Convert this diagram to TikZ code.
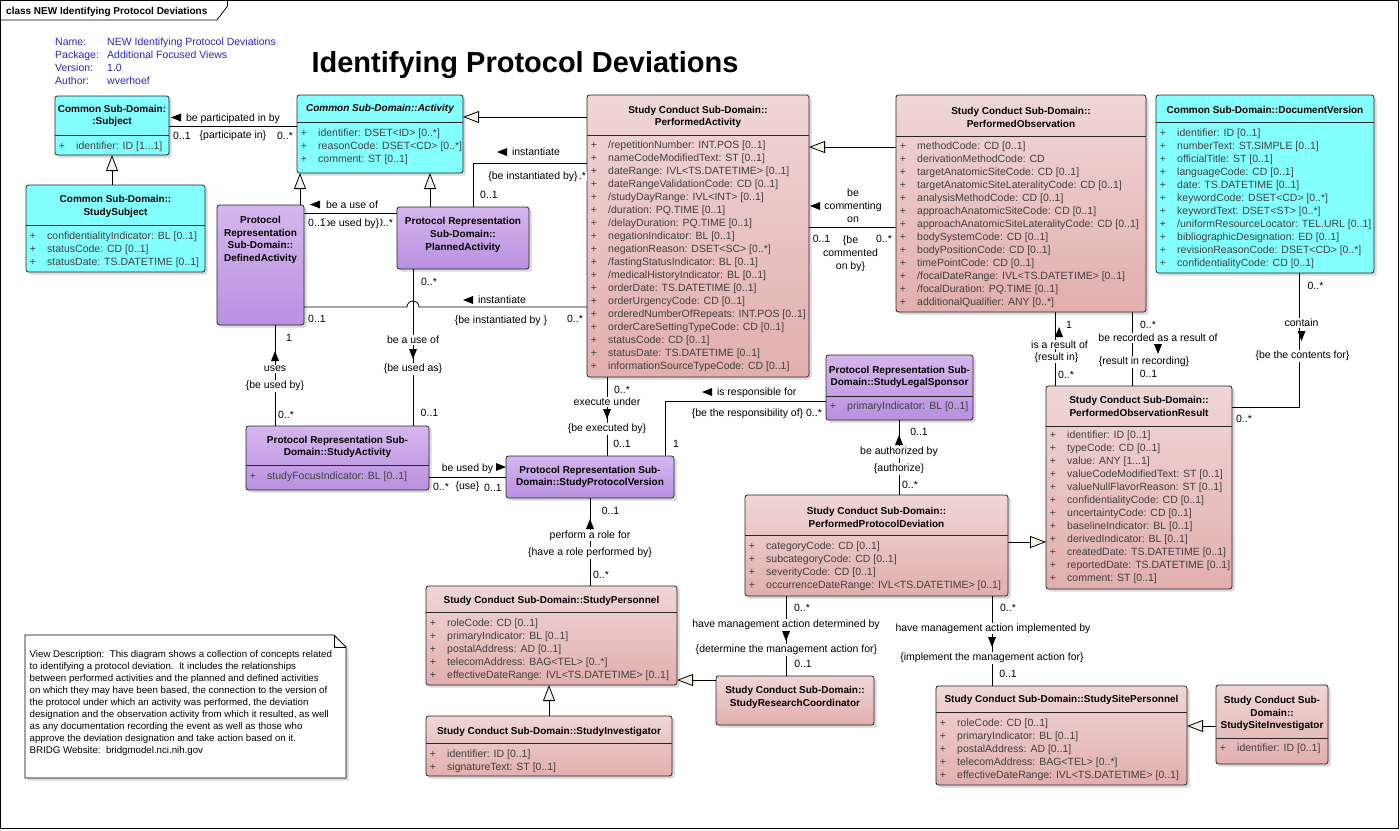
\documentclass[tikz,border=0pt]{standalone}
\usepackage{fontspec}
\setmainfont{Liberation Sans}
\usetikzlibrary{arrows.meta,shadows}
\definecolor{cyanfill}{RGB}{132,255,255}
\definecolor{purtop}{RGB}{214,182,238}
\definecolor{purbot}{RGB}{184,144,224}
\definecolor{pinktop}{RGB}{240,214,214}
\definecolor{pinkbot}{RGB}{226,174,174}
\definecolor{cream}{RGB}{246,240,228}
\definecolor{infoblue}{RGB}{40,40,200}
\definecolor{attrgray}{RGB}{64,64,64}
\newcounter{nn}
\newcommand\tdots{...}
\newcommand\umlbox[6]{\node[#2, minimum width={#5pt-#3pt}, minimum height={#6pt-#4pt}] (#1) at (#3,#4) {};}
\newcommand\sepl[3]{\draw[boxline] (#1,#3) -- (#2,#3);}
\newcommand\ttl[3]{\stepcounter{nn}\node[ttlstyle] (n\arabic{nn}) at (#1,#2) {#3};}
\newcommand\attrs[4]{\foreach \t [count=\i from 0] in {#4}{%
  \node[atr,anchor=base] (#1p\i) at ({#2+7},{#3+13*\i+3.7}) {+};
  \node[atr,anchor=base west] (#1a\i) at ({#2+21},{#3+13*\i+3.7}) {\t};}}
\newcommand\lb[3]{\stepcounter{nn}\node[lbl,anchor=base] (n\arabic{nn}) at (#1,{#2+3.7}) {#3};}
\newcommand\lbw[3]{\stepcounter{nn}\node[lbl,anchor=base west] (n\arabic{nn}) at (#1,{#2+3.7}) {#3};}
\newcommand\lbm[3]{\stepcounter{nn}\node[lbl,fill=none,align=center] (n\arabic{nn}) at (#1,#2) {#3};}
\newcommand\arD[2]{\fill (#1,#2) -- ({#1-4},{#2-10}) -- ({#1+4},{#2-10}) -- cycle;}
\newcommand\arU[2]{\fill (#1,#2) -- ({#1-4},{#2+10}) -- ({#1+4},{#2+10}) -- cycle;}
\newcommand\arL[2]{\fill (#1,#2) -- ({#1+10},{#2-4}) -- ({#1+10},{#2+4}) -- cycle;}
\newcommand\arR[2]{\fill (#1,#2) -- ({#1-10},{#2-4}) -- ({#1-10},{#2+4}) -- cycle;}
\begin{document}
\begin{tikzpicture}[x=1pt,y=-1pt,
  cls/.style={draw=black!85, line width=0.8pt, rounded corners=2.5pt, inner sep=0, outer sep=0, anchor=north west,
     drop shadow={shadow xshift=2.5pt,shadow yshift=-2.5pt,fill=black!30}},
  cyanbox/.style={cls, fill=cyanfill},
  purbox/.style={cls, top color=purtop, bottom color=purbot},
  pinkbox/.style={cls, top color=pinktop, bottom color=pinkbot},
  boxline/.style={draw=black!85, line width=0.8pt},
  ttlstyle/.style={font=\fontsize{10}{12.8}\selectfont\bfseries, align=center, inner sep=0},
  atr/.style={font=\fontsize{10.5}{13}\selectfont, text=attrgray, inner sep=0},
  lbl/.style={font=\fontsize{10.5}{13}\selectfont, inner sep=0.8pt, fill=white},
  info/.style={font=\fontsize{10.5}{13}\selectfont, text=infoblue, inner sep=0, anchor=base west},
  assoc/.style={draw=black, line width=0.8pt},
  gen/.style={assoc, -{Triangle[length=16pt,width=12pt,fill=cream]}}]
\useasboundingbox (0,0) rectangle (1400,830);
\fill[white] (0,0) rectangle (1400,830);
% frame
\draw[line width=0.8pt] (0.5,0.5) rectangle (1398.5,828.5);
\draw[line width=0.8pt] (0.5,20) -- (217,20) -- (227.5,6) -- (227.5,0.5);
\node[font=\fontsize{10}{12}\selectfont\bfseries, inner sep=0, anchor=base west] (hdr) at (6,14) {class NEW Identifying Protocol Deviations};
% info
\node[info] (i1) at (55,45.4) {Name:};
\node[info] (i2) at (55,58.4) {Package:};
\node[info] (i3) at (55,71.4) {Version:};
\node[info] (i4) at (55,84.4) {Author:};
\node[info] (v1) at (107,45.4) {NEW Identifying Protocol Deviations};
\node[info] (v2) at (107,58.4) {Additional Focused Views};
\node[info] (v3) at (107,71.4) {1.0};
\node[info] (v4) at (107,84.4) {wverhoef};
\node[font=\fontsize{29}{32}\selectfont\bfseries, inner sep=0, anchor=base] (title) at (525,72) {Identifying Protocol Deviations};
% ---------- boxes ----------
\umlbox{subj}{cyanbox}{55}{96}{169}{155}
\sepl{55}{169}{135}
\ttl{112}{116}{Common Sub-Domain:\\:Subject}
\attrs{subj}{55}{146}{identifier: ID [1\tdots1]}

\umlbox{act}{cyanbox}{297}{95}{463}{173}
\sepl{297}{463}{122}
\stepcounter{nn}\node[ttlstyle,font=\fontsize{10}{12.8}\selectfont\bfseries\itshape] (n\arabic{nn}) at (380,109) {Common Sub-Domain::Activity};
\attrs{act}{297}{133}{identifier: DSET<ID> [0..*],reasonCode: DSET<CD> [0..*],comment: ST [0..1]}

\umlbox{pa}{pinkbox}{587}{95}{809}{377}
\sepl{587}{809}{135}
\ttl{698}{117}{Study Conduct Sub-Domain::\\PerformedActivity}
\attrs{pa}{587}{145}{/repetitionNumber: INT.POS [0..1],nameCodeModifiedText: ST [0..1],dateRange: IVL<TS.DATETIME> [0..1],dateRangeValidationCode: CD [0..1],/studyDayRange: IVL<INT> [0..1],/duration: PQ.TIME [0..1],/delayDuration: PQ.TIME [0..1],negationIndicator: BL [0..1],negationReason: DSET<SC> [0..*],/fastingStatusIndicator: BL [0..1],/medicalHistoryIndicator: BL [0..1],orderDate: TS.DATETIME [0..1],orderUrgencyCode: CD [0..1],orderedNumberOfRepeats: INT.POS [0..1],orderCareSettingTypeCode: CD [0..1],statusCode: CD [0..1],statusDate: TS.DATETIME [0..1],informationSourceTypeCode: CD [0..1]}

\umlbox{po}{pinkbox}{896}{95}{1146}{312}
\sepl{896}{1146}{136}
\ttl{1021}{117.5}{Study Conduct Sub-Domain::\\PerformedObservation}
\attrs{po}{896}{146}{methodCode: CD [0..1],derivationMethodCode: CD,targetAnatomicSiteCode: CD [0..1],targetAnatomicSiteLateralityCode: CD [0..1],analysisMethodCode: CD [0..1],approachAnatomicSiteCode: CD [0..1],approachAnatomicSiteLateralityCode: CD [0..1],bodySystemCode: CD [0..1],bodyPositionCode: CD [0..1],timePointCode: CD [0..1],/focalDateRange: IVL<TS.DATETIME> [0..1],/focalDuration: PQ.TIME [0..1],additionalQualifier: ANY [0..*]}

\umlbox{dv}{cyanbox}{1156}{95}{1374}{273}
\sepl{1156}{1374}{122}
\ttl{1265}{110}{Common Sub-Domain::DocumentVersion}
\attrs{dv}{1156}{133}{identifier: ID [0..1],numberText: ST.SIMPLE [0..1],officialTitle: ST [0..1],languageCode: CD [0..1],date: TS.DATETIME [0..1],keywordCode: DSET<CD> [0..*],keywordText: DSET<ST> [0..*],/uniformResourceLocator: TEL.URL [0..1],bibliographicDesignation: ED [0..1],revisionReasonCode: DSET<CD> [0..*],confidentialityCode: CD [0..1]}

\umlbox{ssub}{cyanbox}{26}{185}{205}{272}
\sepl{26}{205}{225}
\ttl{115.5}{206.5}{Common Sub-Domain::\\StudySubject}
\attrs{ssub}{26}{236}{confidentialityIndicator: BL [0..1],statusCode: CD [0..1],statusDate: TS.DATETIME [0..1]}

\umlbox{da}{purbox}{217}{205}{304}{325}
\ttl{260.5}{240}{Protocol\\Representation\\Sub-Domain::\\DefinedActivity}

\umlbox{pla}{purbox}{397}{207}{529}{269}
\ttl{463}{235}{Protocol Representation\\Sub-Domain::\\PlannedActivity}

\umlbox{sact}{purbox}{246}{426}{429}{490}
\sepl{246}{429}{465}
\ttl{337.5}{447}{Protocol Representation Sub-\\Domain::StudyActivity}
\attrs{sact}{246}{476}{studyFocusIndicator: BL [0..1]}

\umlbox{spv}{purbox}{506}{456}{674}{498}
\ttl{590}{477}{Protocol Representation Sub-\\Domain::StudyProtocolVersion}

\umlbox{sls}{purbox}{826}{355}{973}{420}
\sepl{826}{973}{396}
\ttl{899.5}{377}{Protocol Representation Sub-\\Domain::StudyLegalSponsor}
\attrs{sls}{826}{406}{primaryIndicator: BL [0..1]}

\umlbox{ppd}{pinkbox}{745}{495}{1008}{596}
\sepl{745}{1008}{535}
\ttl{876.5}{517.5}{Study Conduct Sub-Domain::\\PerformedProtocolDeviation}
\attrs{ppd}{745}{546}{categoryCode: CD [0..1],subcategoryCode: CD [0..1],severityCode: CD [0..1],occurrenceDateRange: IVL<TS.DATETIME> [0..1]}

\umlbox{por}{pinkbox}{1046}{386}{1232}{589}
\sepl{1046}{1232}{426}
\ttl{1139}{406.5}{Study Conduct Sub-Domain::\\PerformedObservationResult}
\attrs{por}{1046}{435}{identifier: ID [0..1],typeCode: CD [0..1],value: ANY [1\tdots1],valueCodeModifiedText: ST [0..1],valueNullFlavorReason: ST [0..1],confidentialityCode: CD [0..1],uncertaintyCode: CD [0..1],baselineIndicator: BL [0..1],derivedIndicator: BL [0..1],createdDate: TS.DATETIME [0..1],reportedDate: TS.DATETIME [0..1],comment: ST [0..1]}

\umlbox{sp}{pinkbox}{426}{586}{677}{685}
\sepl{426}{677}{612}
\ttl{551.5}{600.5}{Study Conduct Sub-Domain::StudyPersonnel}
\attrs{sp}{426}{623}{roleCode: CD [0..1],primaryIndicator: BL [0..1],postalAddress: AD [0..1],telecomAddress: BAG<TEL> [0..*],effectiveDateRange: IVL<TS.DATETIME> [0..1]}

\umlbox{si}{pinkbox}{426}{716}{672}{776}
\sepl{426}{672}{743}
\ttl{549}{731.5}{Study Conduct Sub-Domain::StudyInvestigator}
\attrs{si}{426}{754}{identifier: ID [0..1],signatureText: ST [0..1]}

\umlbox{src}{pinkbox}{716}{676}{874}{725}
\ttl{795}{697.5}{Study Conduct Sub-Domain::\\StudyResearchCoordinator}

\umlbox{ssp}{pinkbox}{936}{686}{1187}{785}
\sepl{936}{1187}{712}
\ttl{1061.5}{700}{Study Conduct Sub-Domain::StudySitePersonnel}
\attrs{ssp}{936}{723}{roleCode: CD [0..1],primaryIndicator: BL [0..1],postalAddress: AD [0..1],telecomAddress: BAG<TEL> [0..*],effectiveDateRange: IVL<TS.DATETIME> [0..1]}

\umlbox{ssi}{pinkbox}{1216}{685}{1328}{764}
\sepl{1216}{1328}{738}
\ttl{1272}{713.5}{Study Conduct Sub-\\Domain::\\StudySiteInvestigator}
\attrs{ssi}{1216}{748}{identifier: ID [0..1]}

% note
\draw[line width=0.8pt, fill=white, drop shadow={shadow xshift=2.5pt,shadow yshift=-2.5pt,fill=black!30}]
  (25,635) -- (334,635) -- (346,647) -- (346,778) -- (25,778) -- cycle;
\draw[line width=0.8pt] (334,635) -- (334,647) -- (346,647);
\node[font=\fontsize{9.7}{12}\selectfont, align=left, inner sep=0, anchor=north west] (desc) at (29.5,650) {View Description:\ \ This diagram shows a collection of concepts related\\to identifying a protocol deviation.\ \ It includes the relationships\\between performed activities and the planned and defined activities\\on which they may have been based, the connection to the version of\\the protocol under which an activity was performed, the deviation\\designation and the observation activity from which it resulted, as well\\as any documentation recording the event as well as those who\\approve the deviation designation and take action based on it.\\BRIDG Website:\ \ bridgmodel.nci.nih.gov};

% ---------- connectors ----------
\draw[gen] (ssub.north -| 112,0) -- (subj.south -| 112,0);
\draw[gen] (da.north -| 300,0) -- (act.south -| 300,0);
\draw[gen] (pla.north -| 430,0) -- (act.south -| 430,0);
\draw[gen] (pa.west |- 0,117) -- (act.east |- 0,117);
\draw[gen] (po.west |- 0,147) -- (pa.east |- 0,147);
\draw[gen] (ppd.east |- 0,542) -- (por.west |- 0,542);
\draw[gen] (src.west |- 0,680) -- (sp.east |- 0,680);
\draw[gen] (si.north -| 549,0) -- (sp.south -| 549,0);
\draw[gen] (ssi.west |- 0,726) -- (ssp.east |- 0,726);

\draw[assoc] (subj.east |- 0,126) -- (act.west |- 0,126);
\draw[assoc] (da.east |- 0,213) -- (pla.west |- 0,213);
\draw[assoc] (pla.north -| 473,0) |- (pa.west |- 0,163);
\draw[assoc] (da.east |- 0,307) -- (407,307) arc[start angle=180,end angle=360,radius=6] -- (pa.west |- 0,307);
\draw[assoc] (pla.south -| 413,0) -- (sact.north -| 413,0);
\draw[assoc] (da.south -| 275,0) -- (sact.north -| 275,0);
\draw[assoc] (sact.east |- 0,477) -- (spv.west |- 0,477);
\draw[assoc] (pa.south -| 607,0) -- (spv.north -| 607,0);
\draw[assoc] (spv.north -| 665,0) |- (sls.west |- 0,401);
\draw[assoc] (sls.south -| 899,0) -- (ppd.north -| 899,0);
\draw[assoc] (spv.south -| 590,0) -- (sp.north -| 590,0);
\draw[assoc] (ppd.south -| 786,0) -- (src.north -| 786,0);
\draw[assoc] (ppd.south -| 992,0) -- (ssp.north -| 992,0);
\draw[assoc] (po.south -| 1055,0) -- (por.north -| 1055,0);
\draw[assoc] (po.south -| 1132,0) -- (por.north -| 1132,0);
\draw[assoc] (dv.south -| 1299,0) |- (por.east |- 0,407);
\draw[assoc] (pa.east |- 0,227) -- (po.west |- 0,227);

% ---------- labels ----------
% A
\arL{171}{117.5}\lbw{185}{117.5}{be participated in by}
\lb{182}{136}{0..1}\lb{233}{135}{\{participate in\}}\lb{285}{136}{0..*}
% G
\arL{310}{204.5}\lbw{325}{204.5}{be a use of}
\lb{385}{223}{0..*}\lb{350}{223}{\{be used by\}}\lb{317}{223}{0..1}
% H
\arL{497}{152}\lbw{511}{152}{instantiate}
\lb{578}{176}{0..*}\lb{533}{176}{\{be instantiated by\}}\lb{489}{194.5}{0..1}
% I
\arL{463}{300}\lbw{477}{300}{instantiate}
\lb{501}{320}{\{be instantiated by \}}\lb{317}{319}{0..1}\lb{575}{319}{0..*}
% J
\lb{429}{282}{0..*}\lb{413}{340}{be a use of}\arD{413}{359}\lb{413}{368}{\{be used as\}}\lb{429.5}{413}{0..1}
% K
\lb{289}{338}{1}\arU{275}{351}\lb{275}{368}{uses}\lb{275}{385}{\{be used by\}}\lb{286}{414.5}{0..*}
% L
\lb{467.5}{467.5}{be used by}\arR{506}{467}
\lb{441}{487}{0..*}\lb{467.5}{485.5}{\{use\}}\lb{493}{487.5}{0..1}
% M
\lb{622}{389.5}{0..*}\lb{607}{402}{execute under}\arD{607}{419}\lb{607}{428}{\{be executed by\}}\lb{622}{443.5}{0..1}
% N
\arL{702}{392}\lbw{716}{392}{is responsible for}
\lb{747.5}{412.5}{\{be the responsibility of\}}\lb{814}{412.5}{0..*}\lb{676}{444}{1}
% O
\lb{919}{432}{0..1}\arU{899}{435}\lb{899}{451}{be authorized by}\lb{899}{468}{\{authorize\}}\lb{910}{485}{0..*}
% P
\lb{610.5}{511}{0..1}\arU{590}{519}\lb{590}{534.5}{perform a role for}\lb{590}{552}{\{have a role performed by\}}\lb{601}{574.5}{0..*}
% R
\lb{802}{607.5}{0..*}\lb{786}{624}{have management action determined by}\arD{786}{641}\lb{786.5}{649}{\{determine the management action for\}}\lb{803}{663.5}{0..1}
% U
\lb{1008}{607.5}{0..*}\lb{993}{627.5}{have management action implemented by}\arD{992}{647}\lb{992}{657}{\{implement the management action for\}}\lb{1008}{673.5}{0..1}
% W
\lb{1069}{324.5}{1}\lb{1059.5}{344.5}{is a result of}\arU{1059}{327}\lb{1056.5}{356.5}{\{result in\}}\lb{1066}{375}{0..*}
% X
\lb{1148}{324.5}{0..*}\lb{1158}{338}{be recorded as a result of}\arD{1158}{354}\lb{1144}{361}{\{result in recording\}}\lb{1148.5}{374}{0..1}
% Y
\lb{1315.5}{286}{0..*}\lb{1301.5}{323}{contain}\arD{1301.5}{341}\lb{1302.5}{355}{\{be the contents for\}}\lb{1244}{418.5}{0..*}
% Z
\lbm{853}{206}{be\\commenting\\on}\arL{810}{206}
\lbm{850.5}{254}{\{be\\commented\\on by\}}\lb{821.5}{239}{0..1}\lb{884}{238.5}{0..*}
\end{tikzpicture}
\end{document}
